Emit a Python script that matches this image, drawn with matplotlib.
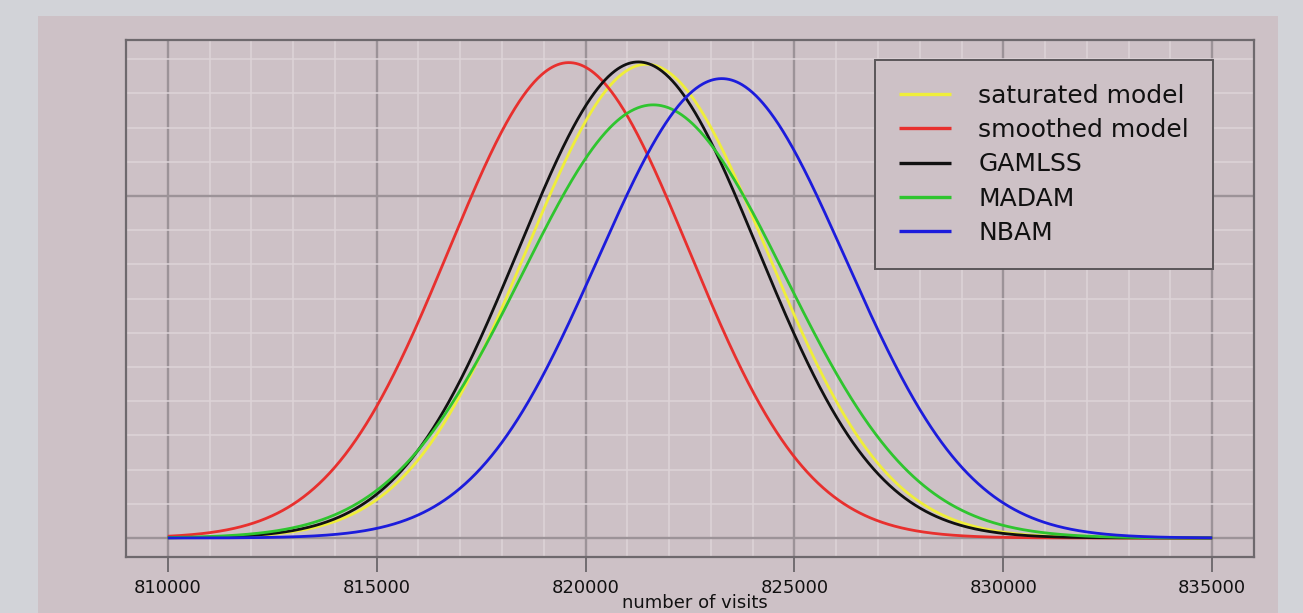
import numpy as np
import matplotlib
matplotlib.use("Agg")
import matplotlib.pyplot as plt
from matplotlib.patches import Rectangle
from matplotlib.ticker import MultipleLocator

# ---- data (normal density curves) ----
labels = ["saturated model", "smoothed model", "GAMLSS", "MADAM", "NBAM"]
means = [821460, 819600, 821262, 821620, 823260]
sds = [2880, 2870, 2866, 3150, 2970]
colors = ["#efee3a", "#e8302e", "#111111", "#2fc52f", "#1c1cdc"]
x_start, x_end = 810000, 835000
xticks = [810000, 815000, 820000, 825000, 830000, 835000]

outer_bg = "#d2d3d8"
panel_bg = "#cdc1c6"

fig = plt.figure(figsize=(13.03, 6.13), dpi=100, facecolor=outer_bg)
fig.patches.append(Rectangle((38 / 1303, 0), (1278 - 38) / 1303, 1 - 16 / 613,
                             transform=fig.transFigure, facecolor=panel_bg,
                             edgecolor="none", zorder=-10))

ax = fig.add_axes([126 / 1303, 56 / 613, 1128 / 1303, 517 / 613])
ax.set_facecolor(panel_bg)

x = np.linspace(x_start, x_end, 1201)
for lab, m, s, c in zip(labels, means, sds, colors):
    y = np.exp(-0.5 * ((x - m) / s) ** 2) / (s * np.sqrt(2 * np.pi))
    ax.plot(x, y, color=c, lw=2.0, label=lab, zorder=3, solid_capstyle="butt")

ax.set_xlim(809000, 836000)
ax.set_ylim(-19 / 342 * 1e-4, 498 / 342 * 1e-4)

ax.xaxis.set_major_locator(MultipleLocator(5000))
ax.xaxis.set_minor_locator(MultipleLocator(1000))
ax.yaxis.set_major_locator(MultipleLocator(1e-4))
ax.yaxis.set_minor_locator(MultipleLocator(1e-5))
ax.grid(which="minor", color="#ddd4d8", lw=1.1, zorder=0)
ax.grid(which="major", color="#9c9398", lw=1.7, zorder=1)
ax.set_axisbelow(True)

ax.set_xticks(xticks)
ax.set_xticklabels([str(t) for t in xticks])
ax.tick_params(axis="x", which="major", direction="out", length=11, width=1.3,
               color="#6a666a", labelsize=13, pad=5, labelcolor="#111111")
ax.tick_params(axis="x", which="minor", length=0)
ax.tick_params(axis="y", which="both", length=0, labelleft=False)

for sp in ax.spines.values():
    sp.set_color("#6e696d")
    sp.set_linewidth(1.6)

leg = ax.legend(loc="upper right", bbox_to_anchor=((1212.7 - 126) / 1128, (557 - 60) / 517),
                borderaxespad=0, fontsize=18, handlelength=2.1, handletextpad=1.08,
                borderpad=0.95, labelspacing=0.41, fancybox=False, framealpha=1,
                facecolor=panel_bg, edgecolor="#5a5659")
leg.get_frame().set_linewidth(1.4)
for t in leg.get_texts():
    t.set_color("#111111")
for h in leg.get_lines():
    h.set_linewidth(2.4)

fig.text(695 / 1303, 0.002, "number of visits", ha="center", va="bottom",
         fontsize=13, color="#111111")

fig.savefig("out.png", dpi=100, facecolor=outer_bg)
